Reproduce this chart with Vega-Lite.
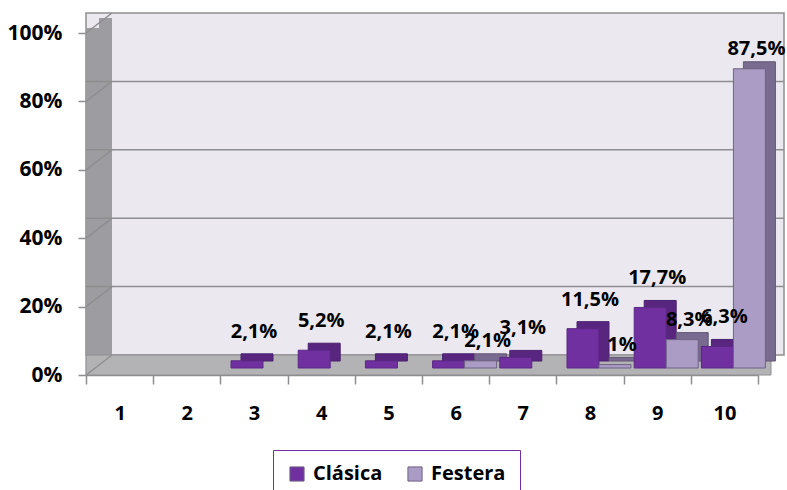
{
  "$schema": "https://vega.github.io/schema/vega-lite/v6.json",
  "width": 672,
  "height": 342,
  "autosize": "none",
  "padding": {"left": 86, "top": 33, "right": 29, "bottom": 115},
  "background": "white",
  "data": {
    "values": [
      {"cat": "3", "series": "Clásica", "value": 0.021},
      {"cat": "4", "series": "Clásica", "value": 0.052},
      {"cat": "5", "series": "Clásica", "value": 0.021},
      {"cat": "6", "series": "Clásica", "value": 0.021},
      {"cat": "6", "series": "Festera", "value": 0.021},
      {"cat": "7", "series": "Clásica", "value": 0.031},
      {"cat": "8", "series": "Clásica", "value": 0.115},
      {"cat": "8", "series": "Festera", "value": 0.01},
      {"cat": "9", "series": "Clásica", "value": 0.177},
      {"cat": "9", "series": "Festera", "value": 0.083},
      {"cat": "10", "series": "Clásica", "value": 0.063},
      {"cat": "10", "series": "Festera", "value": 0.875}
    ]
  },
  "config": {
    "view": {"stroke": null},
    "locale": {"number": {"decimal": ",", "thousands": ".", "grouping": [3], "currency": ["", " €"]}},
    "font": "Open Sans",
    "axis": {"title": null, "grid": false, "tickColor": "#8e8e90", "tickWidth": 1.5, "domainColor": "#8e8e90", "domainWidth": 1.5, "labelFont": "Open Sans", "labelFontWeight": "bold", "labelColor": "#000000", "labelOverlap": false},
    "axisX": {"tickBand": "extent", "tickSize": 9, "labelAngle": 0, "labelFontSize": 20, "labelPadding": 19},
    "axisY": {"tickSize": 8, "labelFontSize": 21, "labelPadding": 16}
  },
  "layer": [
    {
      "data": {"values": [{"lo": 0, "hi": 1}]},
      "mark": {"type": "rect", "fill": "#ebe9ef", "stroke": "#8e8e90", "strokeWidth": 1.5, "xOffset": 26, "x2Offset": 26, "yOffset": -20, "y2Offset": -20},
      "encoding": {
        "y": {"field": "lo", "type": "quantitative", "title": null, "scale": {"domain": [0, 1], "nice": false}, "axis": {"values": [0, 0.2, 0.4, 0.6, 0.8, 1], "format": ".0%"}},
        "y2": {"field": "hi"}
      }
    },
    {
      "data": {"values": [{"cat": "1", "lo": 0, "hi": 1}]},
      "mark": {"type": "rule", "color": "#9d9da1", "strokeWidth": 13, "xOffset": 6.5, "yOffset": -5, "y2Offset": -5},
      "encoding": {
        "x": {"field": "cat", "type": "nominal", "title": null, "bandPosition": 0},
        "y": {"field": "lo", "type": "quantitative", "title": null, "axis": {"values": [0, 0.2, 0.4, 0.6, 0.8, 1], "format": ".0%"}},
        "y2": {"field": "hi"}
      }
    },
    {
      "data": {"values": [{"cat": "1", "lo": 0, "hi": 1}]},
      "mark": {"type": "rule", "color": "#9d9da1", "strokeWidth": 13, "xOffset": 19.5, "yOffset": -15, "y2Offset": -15},
      "encoding": {
        "x": {"field": "cat", "type": "nominal", "title": null, "bandPosition": 0},
        "y": {"field": "lo", "type": "quantitative", "title": null, "axis": {"values": [0, 0.2, 0.4, 0.6, 0.8, 1], "format": ".0%"}},
        "y2": {"field": "hi"}
      }
    },
    {
      "data": {"values": [{"lo": 0}]},
      "mark": {"type": "rect", "fill": "#b3b3b6", "stroke": "#8e8e90", "strokeWidth": 1, "xOffset": 13, "x2Offset": 13, "y2Offset": -20},
      "encoding": {
        "y": {"field": "lo", "type": "quantitative", "title": null, "axis": {"values": [0, 0.2, 0.4, 0.6, 0.8, 1], "format": ".0%"}},
        "y2": {"field": "lo"}
      }
    },
    {
      "data": {"values": [{"t": 0.2}, {"t": 0.4}, {"t": 0.6}, {"t": 0.8}]},
      "mark": {"type": "rule", "color": "#8e8e90", "strokeWidth": 1.5, "xOffset": 26, "x2Offset": 26, "yOffset": -20, "y2Offset": -20},
      "encoding": {
        "y": {"field": "t", "type": "quantitative", "title": null, "axis": {"values": [0, 0.2, 0.4, 0.6, 0.8, 1], "format": ".0%"}}
      }
    },
    {
      "data": {"values": [{"cat": "1", "t": 0}, {"cat": "1", "t": 0.2}, {"cat": "1", "t": 0.4}, {"cat": "1", "t": 0.6}, {"cat": "1", "t": 0.8}, {"cat": "1", "t": 1}]},
      "mark": {"type": "rule", "color": "#8e8e90", "strokeWidth": 1.5, "x2Offset": -7.6, "y2Offset": -20},
      "encoding": {
        "x": {"field": "cat", "type": "nominal", "title": null, "bandPosition": 0},
        "x2": {"field": "cat"},
        "y": {"field": "t", "type": "quantitative", "title": null, "axis": {"values": [0, 0.2, 0.4, 0.6, 0.8, 1], "format": ".0%"}},
        "y2": {"field": "t"}
      }
    },
    {
      "transform": [{"filter": "datum.series === 'Clásica'"}],
      "mark": {"type": "bar", "width": {"band": 0.476}, "xOffset": 3, "yOffset": -14, "y2Offset": -14, "fill": "#58267f", "stroke": "#4a2070", "strokeWidth": 1},
      "encoding": {
        "x": {"field": "cat", "type": "nominal", "title": null},
        "y": {"field": "value", "type": "quantitative", "title": null, "axis": {"values": [0, 0.2, 0.4, 0.6, 0.8, 1], "format": ".0%"}}
      }
    },
    {
      "transform": [{"filter": "datum.series === 'Festera'"}],
      "mark": {"type": "bar", "width": {"band": 0.476}, "xOffset": 35, "yOffset": -14, "y2Offset": -14, "fill": "#786b8f", "stroke": "#625775", "strokeWidth": 1},
      "encoding": {
        "x": {"field": "cat", "type": "nominal", "title": null},
        "y": {"field": "value", "type": "quantitative", "title": null, "axis": {"values": [0, 0.2, 0.4, 0.6, 0.8, 1], "format": ".0%"}}
      }
    },
    {
      "transform": [{"filter": "datum.series === 'Clásica'"}],
      "mark": {"type": "bar", "width": {"band": 0.476}, "xOffset": -7, "yOffset": -7, "y2Offset": -7, "stroke": "#5a2884", "strokeWidth": 1},
      "encoding": {
        "x": {
          "field": "cat", "type": "nominal", "title": null,
          "scale": {"domain": ["1", "2", "3", "4", "5", "6", "7", "8", "9", "10"], "paddingInner": 0, "paddingOuter": 0},
          "axis": {"title": null, "labelAngle": 0, "tickBand": "extent"}
        },
        "y": {"field": "value", "type": "quantitative", "title": null, "axis": {"values": [0, 0.2, 0.4, 0.6, 0.8, 1], "format": ".0%"}},
        "color": {
          "field": "series", "type": "nominal",
          "scale": {"domain": ["Clásica", "Festera"], "range": ["#7030a0", "#aa9cc4"]},
          "legend": {"title": null, "orient": "none", "legendX": 187, "legendY": 417, "direction": "horizontal", "strokeColor": "#7030a0", "padding": 14, "symbolType": "square", "symbolSize": 200, "symbolStrokeColor": "#4a2a6a", "symbolStrokeWidth": 1, "labelFont": "Open Sans", "labelFontSize": 20, "labelFontWeight": "bold", "labelColor": "#000000", "columnPadding": 22, "labelOffset": 6}
        }
      }
    },
    {
      "transform": [{"filter": "datum.series === 'Festera'"}],
      "mark": {"type": "bar", "width": {"band": 0.476}, "xOffset": 25, "yOffset": -7, "y2Offset": -7, "stroke": "#6e6284", "strokeWidth": 1},
      "encoding": {
        "x": {"field": "cat", "type": "nominal", "title": null},
        "y": {"field": "value", "type": "quantitative", "title": null, "axis": {"values": [0, 0.2, 0.4, 0.6, 0.8, 1], "format": ".0%"}},
        "color": {"field": "series", "type": "nominal"}
      }
    },
    {
      "transform": [{"filter": "datum.series === 'Clásica'"}],
      "mark": {"type": "text", "xOffset": 0, "yOffset": -36, "baseline": "middle", "align": "center", "font": "Open Sans", "fontSize": 20, "fontWeight": "bold", "color": "#000000"},
      "encoding": {
        "x": {"field": "cat", "type": "nominal", "title": null},
        "y": {"field": "value", "type": "quantitative", "title": null, "axis": {"values": [0, 0.2, 0.4, 0.6, 0.8, 1], "format": ".0%"}},
        "text": {"field": "value", "type": "quantitative", "format": ".1~%"}
      }
    },
    {
      "transform": [{"filter": "datum.series === 'Festera'"}],
      "mark": {"type": "text", "xOffset": 32, "yOffset": -27, "baseline": "middle", "align": "center", "font": "Open Sans", "fontSize": 20, "fontWeight": "bold", "color": "#000000"},
      "encoding": {
        "x": {"field": "cat", "type": "nominal", "title": null},
        "y": {"field": "value", "type": "quantitative", "title": null, "axis": {"values": [0, 0.2, 0.4, 0.6, 0.8, 1], "format": ".0%"}},
        "text": {"field": "value", "type": "quantitative", "format": ".1~%"}
      }
    }
  ]
}
